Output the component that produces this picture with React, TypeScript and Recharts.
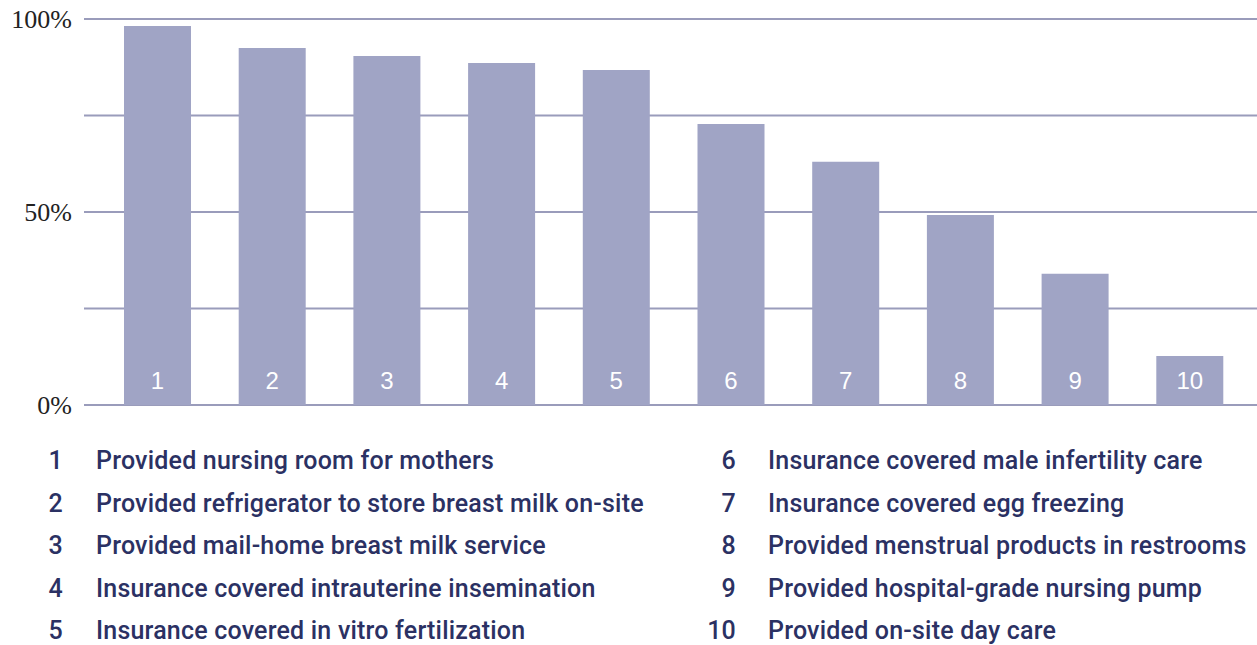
import {BarChart, Bar, XAxis, YAxis, CartesianGrid, LabelList} from 'recharts';

const ids = ['1', '2', '3', '4', '5', '6', '7', '8', '9', '10'];
const shares = [98.2, 92.5, 90.4, 88.6, 86.8, 72.8, 63, 49.2, 34, 12.7];
const labels = [
    'Provided nursing room for mothers',
    'Provided refrigerator to store breast milk on-site',
    'Provided mail-home breast milk service',
    'Insurance covered intrauterine insemination',
    'Insurance covered in vitro fertilization',
    'Insurance covered male infertility care',
    'Insurance covered egg freezing',
    'Provided menstrual products in restrooms',
    'Provided hospital-grade nursing pump',
    'Provided on-site day care',
];
const yTicks = [0, 25, 50, 75, 100];

const data = ids.map((id, i) => ({id, value: shares[i]}));

const BarNumber = (props: any) => {
    const {x, y, width, height, value} = props;
    return (
        <text
            x={x + width / 2}
            y={y + height - 16}
            textAnchor="middle"
            fill="#ffffff"
            fontSize={24}
            fontFamily="'Liberation Sans', Arial, sans-serif"
        >
            {value}
        </text>
    );
};

const legendStyle = {
    position: 'absolute' as const,
    fontFamily: 'Roboto, sans-serif',
    fontWeight: 500,
    fontSize: 25,
    lineHeight: '30px',
    letterSpacing: '0.2px',
    color: '#2b3163',
};

export default function App() {
    return (
        <div style={{position: 'absolute', left: 0, top: 0, width: 1257, height: 645, background: '#fff'}}>
            <BarChart width={1257} height={420} data={data} margin={{top: 19, right: 0, bottom: 15, left: 0}}>
                <CartesianGrid vertical={false} stroke="#9a9cbb" strokeWidth={2}/>
                <XAxis dataKey="id" hide padding={{left: 16, right: 10}}/>
                <YAxis
                    domain={[0, 100]}
                    ticks={yTicks}
                    width={84}
                    axisLine={false}
                    tickLine={false}
                    tickMargin={6}
                    tickFormatter={(v: number) => (v % 50 === 0 ? `${v}%` : '')}
                    tick={{fill: '#222', fontSize: 26, fontFamily: "'Liberation Serif', serif"}}
                />
                <Bar dataKey="value" fill="#a0a4c5" barSize={67} isAnimationActive={false}>
                    <LabelList dataKey="id" content={BarNumber}/>
                </Bar>
            </BarChart>
            {labels.map((label, i) => {
                const col = i < 5 ? 0 : 1;
                const row = i % 5;
                const top = 446 + row * 42.5;
                return (
                    <div key={label}>
                        <div style={{...legendStyle, top, left: col ? 680 : 10, width: col ? 56 : 53, textAlign: 'right'}}>
                            {ids[i]}
                        </div>
                        <div style={{...legendStyle, top, left: col ? 768 : 96, whiteSpace: 'nowrap'}}>
                            {label}
                        </div>
                    </div>
                );
            })}
        </div>
    );
}
